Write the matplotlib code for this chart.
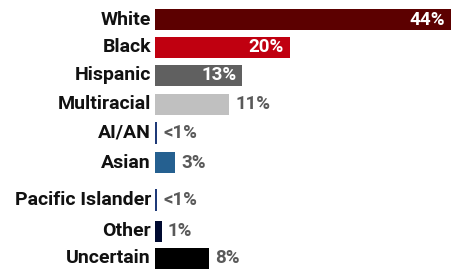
import matplotlib
matplotlib.use("Agg")
from matplotlib import pyplot as plt

# data
categories = ["White", "Black", "Hispanic", "Multiracial", "AI/AN", "Asian",
              "Pacific Islander", "Other", "Uncertain"]
values = [44, 20, 13, 11, 0.3, 3, 0.3, 1, 8]
value_labels = ["44%", "20%", "13%", "11%", "<1%", "3%", "<1%", "1%", "8%"]

# layout / style
rows = [0, 0.98, 1.96, 2.98, 3.98, 5.02, 6.33, 7.42, 8.37]
colors = ["#5c0000", "#c00010", "#606060", "#c0c0c0", "#1f3a78",
          "#256090", "#1f3a78", "#000a30", "#000000"]
inside = [True, True, True, False, False, False, False, False, False]

fig = plt.figure(figsize=(4.52, 2.69), dpi=100)
ax = fig.add_axes([155 / 452, 0, 1 - 155 / 452, 1])
ax.barh(rows, values, height=0.74, color=colors)
ax.set_xlim(0, 44.15)
ax.set_ylim(8.75, -0.684)
ax.axis("off")

for r, v, lab, ins, name in zip(rows, values, value_labels, inside, categories):
    ax.text(-0.6, r, name, ha="right", va="center", fontsize=14,
            family="Roboto", fontweight="bold", color="#111111")
    if ins:
        ax.annotate(lab, (v, r), xytext=(-4.5, 0), textcoords="offset points",
                    ha="right", va="center", fontsize=13.5, family="Roboto",
                    fontweight="bold", color="white")
    else:
        ax.annotate(lab, (v, r), xytext=(4.5, 0), textcoords="offset points",
                    ha="left", va="center", fontsize=13.5, family="Roboto",
                    fontweight="bold", color="#595959")

fig.savefig("out.png", dpi=100)
